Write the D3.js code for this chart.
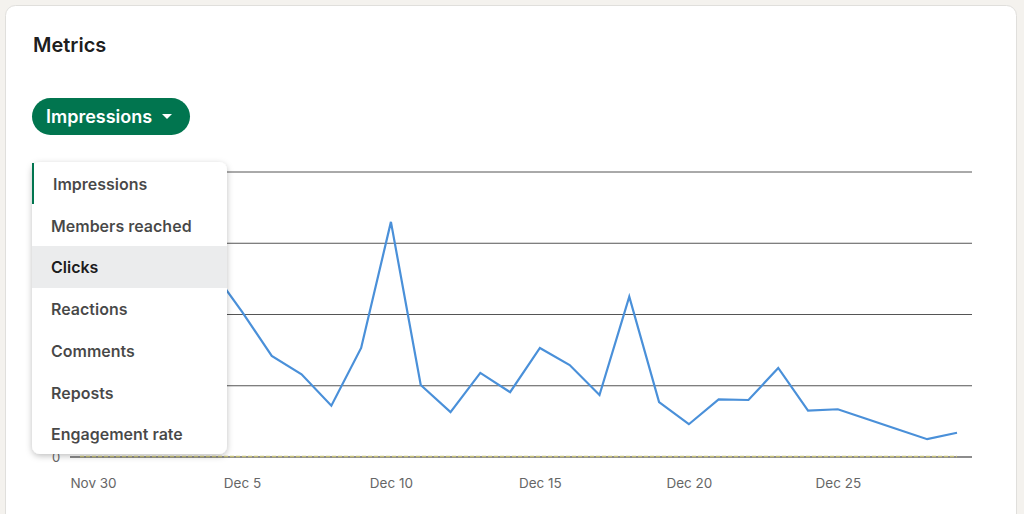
<!DOCTYPE html>
<html><head><meta charset="utf-8">
<script src="https://cdn.jsdelivr.net/npm/d3@7"></script>
<style>
body{margin:0;background:#f4f2ee;font-family:Inter,"Noto Sans",sans-serif;}
</style></head><body>
<svg id="c" width="1024" height="514"></svg>
<script>
const dates = ["Nov 30","Dec 1","Dec 2","Dec 3","Dec 4","Dec 5","Dec 6","Dec 7","Dec 8","Dec 9","Dec 10","Dec 11","Dec 12","Dec 13","Dec 14","Dec 15","Dec 16","Dec 17","Dec 18","Dec 19","Dec 20","Dec 21","Dec 22","Dec 23","Dec 24","Dec 25","Dec 26","Dec 27","Dec 28","Dec 29"];
const impressions = [180,220,250,300,262,204,142,116,72,153,330,101,63,118,91,153,129,87,225,77,46,81,80,125,65,67,53,39,25,34];
const xTickLabels = ["Nov 30","Dec 5","Dec 10","Dec 15","Dec 20","Dec 25"];
const yTicks = [0,100,200,300,400];
const menuItems = ["Impressions","Members reached","Clicks","Reactions","Comments","Reposts","Engagement rate"];

const svg = d3.select("#c");
svg.append("rect").attr("x",5.5).attr("y",5.5).attr("width",1011).attr("height",520).attr("rx",10)
  .attr("fill","#fff").attr("stroke","#e0dfdc");
svg.append("text").attr("x",33).attr("y",52).text("Metrics").attr("font-size",20).attr("font-weight",600).attr("fill","rgba(0,0,0,0.9)");

const x = d3.scalePoint().domain(dates).range([93,957]);
const y = d3.scaleLinear().domain([0,400]).range([457,172]);

const g = svg.append("g");
yTicks.slice(1).forEach(t=>{
  g.append("line").attr("x1",40).attr("x2",972).attr("y1",y(t)).attr("y2",y(t)).attr("stroke","#555").attr("stroke-width",1);
});
g.append("line").attr("x1",70).attr("x2",972).attr("y1",y(0)).attr("y2",y(0)).attr("stroke","#666").attr("stroke-width",1.5);
g.append("line").attr("x1",80).attr("x2",957).attr("y1",y(0)-0.5).attr("y2",y(0)-0.5).attr("stroke","#c8c27a").attr("stroke-width",1.5).attr("stroke-dasharray","4,2");
g.append("text").attr("x",56).attr("y",y(0)+5).attr("text-anchor","middle").attr("font-size",13).attr("fill","#666").text("0");

const xAxis = d3.axisBottom(x).tickValues(xTickLabels).tickSize(0).tickPadding(0);
const ax = svg.append("g").attr("transform","translate(0,478)").call(xAxis);
ax.select(".domain").remove();
ax.selectAll("text").attr("font-size",13.5).attr("fill","#666").attr("font-family","Inter, sans-serif");

svg.append("path").datum(impressions)
  .attr("d",d3.line().x((d,i)=>x(dates[i])).y(d=>y(d)))
  .attr("fill","none").attr("stroke","#4a90d9").attr("stroke-width",2.2);

// button
svg.append("rect").attr("x",32).attr("y",98).attr("width",158).attr("height",37).attr("rx",18.5).attr("fill","#01754f");
svg.append("text").attr("x",46).attr("y",123).text("Impressions").attr("fill","#fff").attr("font-size",18).attr("font-weight",600);
svg.append("path").attr("d","M162,114 l10,0 l-5,5 z").attr("fill","#fff");

// dropdown menu
const defs = svg.append("defs");
const f = defs.append("filter").attr("id","sh").attr("x","-20%").attr("y","-20%").attr("width","140%").attr("height","140%");
f.append("feDropShadow").attr("dx",0).attr("dy",2).attr("stdDeviation",3).attr("flood-color","#000").attr("flood-opacity",0.25);
svg.append("rect").attr("x",32).attr("y",162).attr("width",195).attr("height",292).attr("rx",8).attr("fill","#fff").attr("filter","url(#sh)");
svg.append("rect").attr("x",32).attr("y",246).attr("width",195).attr("height",42).attr("fill","#ebeced");
svg.append("rect").attr("x",32).attr("y",163).attr("width",2).attr("height",41).attr("fill","#01754f");
menuItems.forEach((m,i)=>{
  svg.append("text").attr("x",i===0?53:51).attr("y",190+i*41.7).text(m).attr("font-size",16).attr("font-weight",600)
    .attr("fill",i===2?"rgba(0,0,0,0.9)":"rgba(0,0,0,0.72)");
});
</script></body></html>
